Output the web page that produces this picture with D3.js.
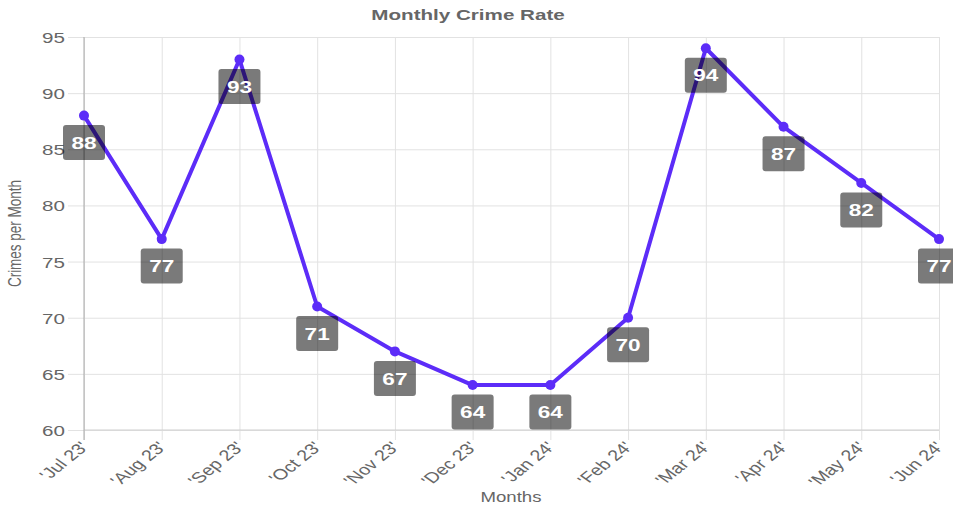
<!DOCTYPE html>
<html>
<head>
<meta charset="utf-8">
<script src="https://cdn.jsdelivr.net/npm/d3@7"></script>
<style>
  body { margin: 0; background: #fff; }
  svg { display: block; font-family: "Liberation Sans", Arial, sans-serif; }
</style>
</head>
<body>
<script>
const svgWidth = 953
const svgHeight = 511

const months = ["'Jul 23'", "'Aug 23'", "'Sep 23'", "'Oct 23'", "'Nov 23'", "'Dec 23'",
  "'Jan 24'", "'Feb 24'", "'Mar 24'", "'Apr 24'", "'May 24'", "'Jun 24'"]
const crimes = [88, 77, 93, 71, 67, 64, 64, 70, 94, 87, 82, 77]
const yTicks = [60, 65, 70, 75, 80, 85, 90, 95]

// the original chart looks stretched sideways, so text gets a horizontal scale
const stretch = 1.33

const margin = { top: 37, right: 14, bottom: 81, left: 84 }
const chartWidth = svgWidth - margin.left - margin.right
const chartHeight = svgHeight - margin.top - margin.bottom

const svg = d3.select("body").append("svg")
  .attr("width", svgWidth)
  .attr("height", svgHeight)

const chartG = svg.append("g")
  .attr("transform", `translate(${margin.left}, ${margin.top})`)

const x = d3.scalePoint()
  .domain(months)
  .range([0, chartWidth])

const y = d3.scaleLinear()
  .domain([60, 95])
  .range([chartHeight, 0])

// y grid + labels
const yAxis = chartG.append("g")
  .call(d3.axisLeft(y).tickValues(yTicks).tickSize(-chartWidth))
  .call(g => g.select(".domain").remove())
yAxis.selectAll("line").attr("stroke", "#e2e2e2").attr("x1", -16)
yAxis.selectAll("text")
  .attr("fill", "#666")
  .attr("font-size", 15.5)
  .attr("x", 0)
  .attr("dy", "0.35em")
  .attr("transform", `translate(-19, 0) scale(${stretch}, 1)`)

// x grid + labels
const xAxis = chartG.append("g")
  .attr("transform", `translate(0, ${chartHeight})`)
  .call(d3.axisBottom(x).tickSize(-chartHeight))
  .call(g => g.select(".domain").remove())
xAxis.selectAll("line").attr("stroke", "#e2e2e2").attr("y1", 10)
xAxis.selectAll("text")
  .attr("fill", "#666")
  .attr("font-size", 15)
  .attr("text-anchor", "end")
  .attr("x", 0)
  .attr("y", 0)
  .attr("dy", "0.35em")
  .attr("transform", `translate(0, 14) scale(${stretch}, 1) rotate(-47)`)

// axis lines
chartG.append("line")
  .attr("x1", 0).attr("x2", chartWidth)
  .attr("y1", chartHeight).attr("y2", chartHeight)
  .attr("stroke", "#cfcfcf")
chartG.append("line")
  .attr("x1", 0).attr("x2", 0)
  .attr("y1", 0).attr("y2", chartHeight + 10)
  .attr("stroke", "#a8a8a8")

// line
const line = d3.line()
  .x((d, i) => x(months[i]))
  .y(d => y(d))

chartG.append("path")
  .datum(crimes)
  .attr("fill", "none")
  .attr("stroke", "#5c2cf8")
  .attr("stroke-width", 4)
  .attr("stroke-linejoin", "round")
  .attr("d", line)

chartG.selectAll("circle")
  .data(crimes)
  .enter()
  .append("circle")
  .attr("cx", (d, i) => x(months[i]))
  .attr("cy", d => y(d))
  .attr("r", 5)
  .attr("fill", "#5c2cf8")

// data labels
const labels = chartG.selectAll(".lbl")
  .data(crimes)
  .enter()
  .append("g")
  .attr("class", "lbl")
  .attr("transform", (d, i) => `translate(${x(months[i])}, ${y(d) + 27})`)

labels.append("rect")
  .attr("x", -21).attr("y", -17.5)
  .attr("width", 42).attr("height", 35)
  .attr("rx", 3)
  .attr("fill", "#000")
  .attr("fill-opacity", 0.52)

labels.append("text")
  .attr("text-anchor", "middle")
  .attr("dy", "0.36em")
  .attr("fill", "#fff")
  .attr("font-size", 17)
  .attr("font-weight", "bold")
  .attr("transform", `scale(${stretch}, 1)`)
  .text(d => d)

// titles
svg.append("text")
  .attr("transform", `translate(468, 20) scale(${stretch}, 1)`)
  .attr("text-anchor", "middle")
  .attr("fill", "#666")
  .attr("font-size", 15.5)
  .attr("font-weight", "bold")
  .text("Monthly Crime Rate")

svg.append("text")
  .attr("transform", `translate(511, 502) scale(${stretch}, 1)`)
  .attr("text-anchor", "middle")
  .attr("fill", "#666")
  .attr("font-size", 14)
  .text("Months")

svg.append("text")
  .attr("transform", `translate(21, ${margin.top + chartHeight / 2}) scale(${stretch}, 1) rotate(-90)`)
  .attr("text-anchor", "middle")
  .attr("fill", "#666")
  .attr("font-size", 13.5)
  .text("Crimes per Month")
</script>
</body>
</html>
